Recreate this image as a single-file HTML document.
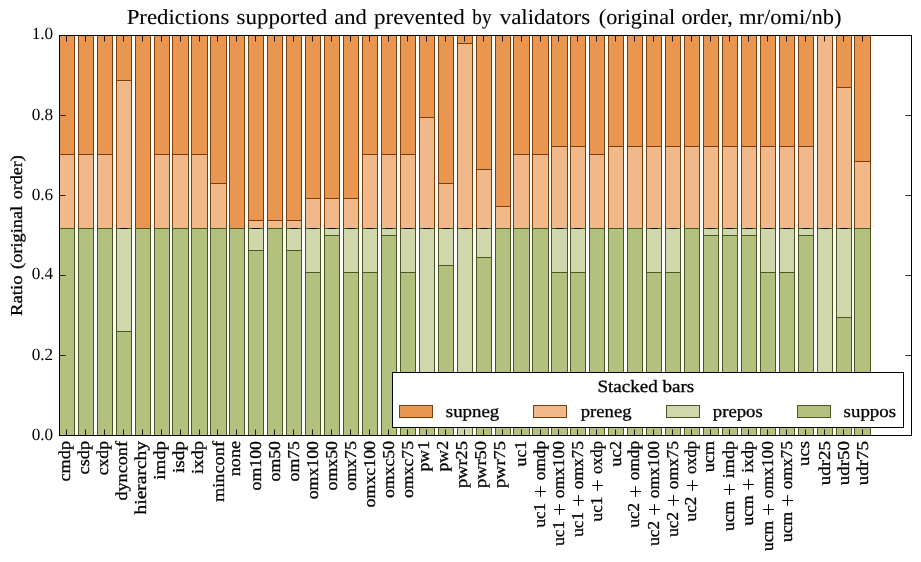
<!DOCTYPE html><html><head><meta charset="utf-8"><title>chart</title><style>html,body{margin:0;padding:0;background:#fff;overflow:hidden}svg{display:block;will-change:transform}text{text-rendering:geometricPrecision;stroke:#000;stroke-width:0.3px;font-family:"Liberation Serif",serif;fill:#000}</style></head><body>
<svg width="921" height="562" viewBox="0 0 921 562">
<rect x="0" y="0" width="921" height="562" fill="#fff"/>
<rect x="59.5" y="35.5" width="15.0" height="119.0" fill="#e99650" stroke="#7a3e0c" stroke-width="1"/>
<rect x="59.5" y="154.5" width="15.0" height="74.0" fill="#f1b989" stroke="#7a3e0c" stroke-width="1"/>
<rect x="59.5" y="228.5" width="15.0" height="207.0" fill="#b2c27e" stroke="#4b5623" stroke-width="1"/>
<rect x="78.5" y="35.5" width="15.0" height="119.0" fill="#e99650" stroke="#7a3e0c" stroke-width="1"/>
<rect x="78.5" y="154.5" width="15.0" height="74.0" fill="#f1b989" stroke="#7a3e0c" stroke-width="1"/>
<rect x="78.5" y="228.5" width="15.0" height="207.0" fill="#b2c27e" stroke="#4b5623" stroke-width="1"/>
<rect x="97.5" y="35.5" width="15.0" height="119.0" fill="#e99650" stroke="#7a3e0c" stroke-width="1"/>
<rect x="97.5" y="154.5" width="15.0" height="74.0" fill="#f1b989" stroke="#7a3e0c" stroke-width="1"/>
<rect x="97.5" y="228.5" width="15.0" height="207.0" fill="#b2c27e" stroke="#4b5623" stroke-width="1"/>
<rect x="116.5" y="35.5" width="15.0" height="45.0" fill="#e99650" stroke="#7a3e0c" stroke-width="1"/>
<rect x="116.5" y="80.5" width="15.0" height="148.0" fill="#f1b989" stroke="#7a3e0c" stroke-width="1"/>
<rect x="116.5" y="228.5" width="15.0" height="103.0" fill="#d0d7ab" stroke="#4b5623" stroke-width="1"/>
<rect x="116.5" y="331.5" width="15.0" height="104.0" fill="#b2c27e" stroke="#4b5623" stroke-width="1"/>
<rect x="135.5" y="35.5" width="15.0" height="193.0" fill="#e99650" stroke="#7a3e0c" stroke-width="1"/>
<rect x="135.5" y="228.5" width="15.0" height="207.0" fill="#b2c27e" stroke="#4b5623" stroke-width="1"/>
<rect x="154.5" y="35.5" width="15.0" height="119.0" fill="#e99650" stroke="#7a3e0c" stroke-width="1"/>
<rect x="154.5" y="154.5" width="15.0" height="74.0" fill="#f1b989" stroke="#7a3e0c" stroke-width="1"/>
<rect x="154.5" y="228.5" width="15.0" height="207.0" fill="#b2c27e" stroke="#4b5623" stroke-width="1"/>
<rect x="172.5" y="35.5" width="16.0" height="119.0" fill="#e99650" stroke="#7a3e0c" stroke-width="1"/>
<rect x="172.5" y="154.5" width="16.0" height="74.0" fill="#f1b989" stroke="#7a3e0c" stroke-width="1"/>
<rect x="172.5" y="228.5" width="16.0" height="207.0" fill="#b2c27e" stroke="#4b5623" stroke-width="1"/>
<rect x="191.5" y="35.5" width="16.0" height="119.0" fill="#e99650" stroke="#7a3e0c" stroke-width="1"/>
<rect x="191.5" y="154.5" width="16.0" height="74.0" fill="#f1b989" stroke="#7a3e0c" stroke-width="1"/>
<rect x="191.5" y="228.5" width="16.0" height="207.0" fill="#b2c27e" stroke="#4b5623" stroke-width="1"/>
<rect x="210.5" y="35.5" width="16.0" height="148.0" fill="#e99650" stroke="#7a3e0c" stroke-width="1"/>
<rect x="210.5" y="183.5" width="16.0" height="45.0" fill="#f1b989" stroke="#7a3e0c" stroke-width="1"/>
<rect x="210.5" y="228.5" width="16.0" height="207.0" fill="#b2c27e" stroke="#4b5623" stroke-width="1"/>
<rect x="229.5" y="35.5" width="15.0" height="193.0" fill="#e99650" stroke="#7a3e0c" stroke-width="1"/>
<rect x="229.5" y="228.5" width="15.0" height="207.0" fill="#b2c27e" stroke="#4b5623" stroke-width="1"/>
<rect x="248.5" y="35.5" width="15.0" height="185.0" fill="#e99650" stroke="#7a3e0c" stroke-width="1"/>
<rect x="248.5" y="220.5" width="15.0" height="8.0" fill="#f1b989" stroke="#7a3e0c" stroke-width="1"/>
<rect x="248.5" y="228.5" width="15.0" height="22.0" fill="#d0d7ab" stroke="#4b5623" stroke-width="1"/>
<rect x="248.5" y="250.5" width="15.0" height="185.0" fill="#b2c27e" stroke="#4b5623" stroke-width="1"/>
<rect x="267.5" y="35.5" width="15.0" height="185.0" fill="#e99650" stroke="#7a3e0c" stroke-width="1"/>
<rect x="267.5" y="220.5" width="15.0" height="8.0" fill="#f1b989" stroke="#7a3e0c" stroke-width="1"/>
<rect x="267.5" y="228.5" width="15.0" height="207.0" fill="#b2c27e" stroke="#4b5623" stroke-width="1"/>
<rect x="286.5" y="35.5" width="15.0" height="185.0" fill="#e99650" stroke="#7a3e0c" stroke-width="1"/>
<rect x="286.5" y="220.5" width="15.0" height="8.0" fill="#f1b989" stroke="#7a3e0c" stroke-width="1"/>
<rect x="286.5" y="228.5" width="15.0" height="22.0" fill="#d0d7ab" stroke="#4b5623" stroke-width="1"/>
<rect x="286.5" y="250.5" width="15.0" height="185.0" fill="#b2c27e" stroke="#4b5623" stroke-width="1"/>
<rect x="305.5" y="35.5" width="15.0" height="163.0" fill="#e99650" stroke="#7a3e0c" stroke-width="1"/>
<rect x="305.5" y="198.5" width="15.0" height="30.0" fill="#f1b989" stroke="#7a3e0c" stroke-width="1"/>
<rect x="305.5" y="228.5" width="15.0" height="44.0" fill="#d0d7ab" stroke="#4b5623" stroke-width="1"/>
<rect x="305.5" y="272.5" width="15.0" height="163.0" fill="#b2c27e" stroke="#4b5623" stroke-width="1"/>
<rect x="324.5" y="35.5" width="15.0" height="163.0" fill="#e99650" stroke="#7a3e0c" stroke-width="1"/>
<rect x="324.5" y="198.5" width="15.0" height="30.0" fill="#f1b989" stroke="#7a3e0c" stroke-width="1"/>
<rect x="324.5" y="228.5" width="15.0" height="7.0" fill="#d0d7ab" stroke="#4b5623" stroke-width="1"/>
<rect x="324.5" y="235.5" width="15.0" height="200.0" fill="#b2c27e" stroke="#4b5623" stroke-width="1"/>
<rect x="343.5" y="35.5" width="15.0" height="163.0" fill="#e99650" stroke="#7a3e0c" stroke-width="1"/>
<rect x="343.5" y="198.5" width="15.0" height="30.0" fill="#f1b989" stroke="#7a3e0c" stroke-width="1"/>
<rect x="343.5" y="228.5" width="15.0" height="44.0" fill="#d0d7ab" stroke="#4b5623" stroke-width="1"/>
<rect x="343.5" y="272.5" width="15.0" height="163.0" fill="#b2c27e" stroke="#4b5623" stroke-width="1"/>
<rect x="362.5" y="35.5" width="15.0" height="119.0" fill="#e99650" stroke="#7a3e0c" stroke-width="1"/>
<rect x="362.5" y="154.5" width="15.0" height="74.0" fill="#f1b989" stroke="#7a3e0c" stroke-width="1"/>
<rect x="362.5" y="228.5" width="15.0" height="44.0" fill="#d0d7ab" stroke="#4b5623" stroke-width="1"/>
<rect x="362.5" y="272.5" width="15.0" height="163.0" fill="#b2c27e" stroke="#4b5623" stroke-width="1"/>
<rect x="381.5" y="35.5" width="15.0" height="119.0" fill="#e99650" stroke="#7a3e0c" stroke-width="1"/>
<rect x="381.5" y="154.5" width="15.0" height="74.0" fill="#f1b989" stroke="#7a3e0c" stroke-width="1"/>
<rect x="381.5" y="228.5" width="15.0" height="7.0" fill="#d0d7ab" stroke="#4b5623" stroke-width="1"/>
<rect x="381.5" y="235.5" width="15.0" height="200.0" fill="#b2c27e" stroke="#4b5623" stroke-width="1"/>
<rect x="400.5" y="35.5" width="15.0" height="119.0" fill="#e99650" stroke="#7a3e0c" stroke-width="1"/>
<rect x="400.5" y="154.5" width="15.0" height="74.0" fill="#f1b989" stroke="#7a3e0c" stroke-width="1"/>
<rect x="400.5" y="228.5" width="15.0" height="44.0" fill="#d0d7ab" stroke="#4b5623" stroke-width="1"/>
<rect x="400.5" y="272.5" width="15.0" height="163.0" fill="#b2c27e" stroke="#4b5623" stroke-width="1"/>
<rect x="419.5" y="35.5" width="15.0" height="82.0" fill="#e99650" stroke="#7a3e0c" stroke-width="1"/>
<rect x="419.5" y="117.5" width="15.0" height="111.0" fill="#f1b989" stroke="#7a3e0c" stroke-width="1"/>
<rect x="419.5" y="228.5" width="15.0" height="167.0" fill="#d0d7ab" stroke="#4b5623" stroke-width="1"/>
<rect x="419.5" y="395.5" width="15.0" height="40.0" fill="#b2c27e" stroke="#4b5623" stroke-width="1"/>
<rect x="438.5" y="35.5" width="15.0" height="148.0" fill="#e99650" stroke="#7a3e0c" stroke-width="1"/>
<rect x="438.5" y="183.5" width="15.0" height="45.0" fill="#f1b989" stroke="#7a3e0c" stroke-width="1"/>
<rect x="438.5" y="228.5" width="15.0" height="37.0" fill="#d0d7ab" stroke="#4b5623" stroke-width="1"/>
<rect x="438.5" y="265.5" width="15.0" height="170.0" fill="#b2c27e" stroke="#4b5623" stroke-width="1"/>
<rect x="457.5" y="35.5" width="15.0" height="8.0" fill="#e99650" stroke="#7a3e0c" stroke-width="1"/>
<rect x="457.5" y="43.5" width="15.0" height="185.0" fill="#f1b989" stroke="#7a3e0c" stroke-width="1"/>
<rect x="457.5" y="228.5" width="15.0" height="207.0" fill="#d0d7ab" stroke="#4b5623" stroke-width="1"/>
<rect x="476.5" y="35.5" width="15.0" height="134.0" fill="#e99650" stroke="#7a3e0c" stroke-width="1"/>
<rect x="476.5" y="169.5" width="15.0" height="59.0" fill="#f1b989" stroke="#7a3e0c" stroke-width="1"/>
<rect x="476.5" y="228.5" width="15.0" height="29.0" fill="#d0d7ab" stroke="#4b5623" stroke-width="1"/>
<rect x="476.5" y="257.5" width="15.0" height="178.0" fill="#b2c27e" stroke="#4b5623" stroke-width="1"/>
<rect x="495.5" y="35.5" width="15.0" height="171.0" fill="#e99650" stroke="#7a3e0c" stroke-width="1"/>
<rect x="495.5" y="206.5" width="15.0" height="22.0" fill="#f1b989" stroke="#7a3e0c" stroke-width="1"/>
<rect x="495.5" y="228.5" width="15.0" height="207.0" fill="#b2c27e" stroke="#4b5623" stroke-width="1"/>
<rect x="513.5" y="35.5" width="16.0" height="119.0" fill="#e99650" stroke="#7a3e0c" stroke-width="1"/>
<rect x="513.5" y="154.5" width="16.0" height="74.0" fill="#f1b989" stroke="#7a3e0c" stroke-width="1"/>
<rect x="513.5" y="228.5" width="16.0" height="207.0" fill="#b2c27e" stroke="#4b5623" stroke-width="1"/>
<rect x="532.5" y="35.5" width="16.0" height="119.0" fill="#e99650" stroke="#7a3e0c" stroke-width="1"/>
<rect x="532.5" y="154.5" width="16.0" height="74.0" fill="#f1b989" stroke="#7a3e0c" stroke-width="1"/>
<rect x="532.5" y="228.5" width="16.0" height="207.0" fill="#b2c27e" stroke="#4b5623" stroke-width="1"/>
<rect x="551.5" y="35.5" width="16.0" height="111.0" fill="#e99650" stroke="#7a3e0c" stroke-width="1"/>
<rect x="551.5" y="146.5" width="16.0" height="82.0" fill="#f1b989" stroke="#7a3e0c" stroke-width="1"/>
<rect x="551.5" y="228.5" width="16.0" height="44.0" fill="#d0d7ab" stroke="#4b5623" stroke-width="1"/>
<rect x="551.5" y="272.5" width="16.0" height="163.0" fill="#b2c27e" stroke="#4b5623" stroke-width="1"/>
<rect x="570.5" y="35.5" width="15.0" height="111.0" fill="#e99650" stroke="#7a3e0c" stroke-width="1"/>
<rect x="570.5" y="146.5" width="15.0" height="82.0" fill="#f1b989" stroke="#7a3e0c" stroke-width="1"/>
<rect x="570.5" y="228.5" width="15.0" height="44.0" fill="#d0d7ab" stroke="#4b5623" stroke-width="1"/>
<rect x="570.5" y="272.5" width="15.0" height="163.0" fill="#b2c27e" stroke="#4b5623" stroke-width="1"/>
<rect x="589.5" y="35.5" width="15.0" height="119.0" fill="#e99650" stroke="#7a3e0c" stroke-width="1"/>
<rect x="589.5" y="154.5" width="15.0" height="74.0" fill="#f1b989" stroke="#7a3e0c" stroke-width="1"/>
<rect x="589.5" y="228.5" width="15.0" height="207.0" fill="#b2c27e" stroke="#4b5623" stroke-width="1"/>
<rect x="608.5" y="35.5" width="15.0" height="111.0" fill="#e99650" stroke="#7a3e0c" stroke-width="1"/>
<rect x="608.5" y="146.5" width="15.0" height="82.0" fill="#f1b989" stroke="#7a3e0c" stroke-width="1"/>
<rect x="608.5" y="228.5" width="15.0" height="207.0" fill="#b2c27e" stroke="#4b5623" stroke-width="1"/>
<rect x="627.5" y="35.5" width="15.0" height="111.0" fill="#e99650" stroke="#7a3e0c" stroke-width="1"/>
<rect x="627.5" y="146.5" width="15.0" height="82.0" fill="#f1b989" stroke="#7a3e0c" stroke-width="1"/>
<rect x="627.5" y="228.5" width="15.0" height="207.0" fill="#b2c27e" stroke="#4b5623" stroke-width="1"/>
<rect x="646.5" y="35.5" width="15.0" height="111.0" fill="#e99650" stroke="#7a3e0c" stroke-width="1"/>
<rect x="646.5" y="146.5" width="15.0" height="82.0" fill="#f1b989" stroke="#7a3e0c" stroke-width="1"/>
<rect x="646.5" y="228.5" width="15.0" height="44.0" fill="#d0d7ab" stroke="#4b5623" stroke-width="1"/>
<rect x="646.5" y="272.5" width="15.0" height="163.0" fill="#b2c27e" stroke="#4b5623" stroke-width="1"/>
<rect x="665.5" y="35.5" width="15.0" height="111.0" fill="#e99650" stroke="#7a3e0c" stroke-width="1"/>
<rect x="665.5" y="146.5" width="15.0" height="82.0" fill="#f1b989" stroke="#7a3e0c" stroke-width="1"/>
<rect x="665.5" y="228.5" width="15.0" height="44.0" fill="#d0d7ab" stroke="#4b5623" stroke-width="1"/>
<rect x="665.5" y="272.5" width="15.0" height="163.0" fill="#b2c27e" stroke="#4b5623" stroke-width="1"/>
<rect x="684.5" y="35.5" width="15.0" height="111.0" fill="#e99650" stroke="#7a3e0c" stroke-width="1"/>
<rect x="684.5" y="146.5" width="15.0" height="82.0" fill="#f1b989" stroke="#7a3e0c" stroke-width="1"/>
<rect x="684.5" y="228.5" width="15.0" height="207.0" fill="#b2c27e" stroke="#4b5623" stroke-width="1"/>
<rect x="703.5" y="35.5" width="15.0" height="111.0" fill="#e99650" stroke="#7a3e0c" stroke-width="1"/>
<rect x="703.5" y="146.5" width="15.0" height="82.0" fill="#f1b989" stroke="#7a3e0c" stroke-width="1"/>
<rect x="703.5" y="228.5" width="15.0" height="7.0" fill="#d0d7ab" stroke="#4b5623" stroke-width="1"/>
<rect x="703.5" y="235.5" width="15.0" height="200.0" fill="#b2c27e" stroke="#4b5623" stroke-width="1"/>
<rect x="722.5" y="35.5" width="15.0" height="111.0" fill="#e99650" stroke="#7a3e0c" stroke-width="1"/>
<rect x="722.5" y="146.5" width="15.0" height="82.0" fill="#f1b989" stroke="#7a3e0c" stroke-width="1"/>
<rect x="722.5" y="228.5" width="15.0" height="7.0" fill="#d0d7ab" stroke="#4b5623" stroke-width="1"/>
<rect x="722.5" y="235.5" width="15.0" height="200.0" fill="#b2c27e" stroke="#4b5623" stroke-width="1"/>
<rect x="741.5" y="35.5" width="15.0" height="111.0" fill="#e99650" stroke="#7a3e0c" stroke-width="1"/>
<rect x="741.5" y="146.5" width="15.0" height="82.0" fill="#f1b989" stroke="#7a3e0c" stroke-width="1"/>
<rect x="741.5" y="228.5" width="15.0" height="7.0" fill="#d0d7ab" stroke="#4b5623" stroke-width="1"/>
<rect x="741.5" y="235.5" width="15.0" height="200.0" fill="#b2c27e" stroke="#4b5623" stroke-width="1"/>
<rect x="760.5" y="35.5" width="15.0" height="111.0" fill="#e99650" stroke="#7a3e0c" stroke-width="1"/>
<rect x="760.5" y="146.5" width="15.0" height="82.0" fill="#f1b989" stroke="#7a3e0c" stroke-width="1"/>
<rect x="760.5" y="228.5" width="15.0" height="44.0" fill="#d0d7ab" stroke="#4b5623" stroke-width="1"/>
<rect x="760.5" y="272.5" width="15.0" height="163.0" fill="#b2c27e" stroke="#4b5623" stroke-width="1"/>
<rect x="779.5" y="35.5" width="15.0" height="111.0" fill="#e99650" stroke="#7a3e0c" stroke-width="1"/>
<rect x="779.5" y="146.5" width="15.0" height="82.0" fill="#f1b989" stroke="#7a3e0c" stroke-width="1"/>
<rect x="779.5" y="228.5" width="15.0" height="44.0" fill="#d0d7ab" stroke="#4b5623" stroke-width="1"/>
<rect x="779.5" y="272.5" width="15.0" height="163.0" fill="#b2c27e" stroke="#4b5623" stroke-width="1"/>
<rect x="798.5" y="35.5" width="15.0" height="111.0" fill="#e99650" stroke="#7a3e0c" stroke-width="1"/>
<rect x="798.5" y="146.5" width="15.0" height="82.0" fill="#f1b989" stroke="#7a3e0c" stroke-width="1"/>
<rect x="798.5" y="228.5" width="15.0" height="7.0" fill="#d0d7ab" stroke="#4b5623" stroke-width="1"/>
<rect x="798.5" y="235.5" width="15.0" height="200.0" fill="#b2c27e" stroke="#4b5623" stroke-width="1"/>
<rect x="817.5" y="35.5" width="15.0" height="193.0" fill="#f1b989" stroke="#7a3e0c" stroke-width="1"/>
<rect x="817.5" y="228.5" width="15.0" height="167.0" fill="#d0d7ab" stroke="#4b5623" stroke-width="1"/>
<rect x="817.5" y="395.5" width="15.0" height="40.0" fill="#b2c27e" stroke="#4b5623" stroke-width="1"/>
<rect x="836.5" y="35.5" width="15.0" height="52.0" fill="#e99650" stroke="#7a3e0c" stroke-width="1"/>
<rect x="836.5" y="87.5" width="15.0" height="141.0" fill="#f1b989" stroke="#7a3e0c" stroke-width="1"/>
<rect x="836.5" y="228.5" width="15.0" height="89.0" fill="#d0d7ab" stroke="#4b5623" stroke-width="1"/>
<rect x="836.5" y="317.5" width="15.0" height="118.0" fill="#b2c27e" stroke="#4b5623" stroke-width="1"/>
<rect x="854.5" y="35.5" width="16.0" height="126.0" fill="#e99650" stroke="#7a3e0c" stroke-width="1"/>
<rect x="854.5" y="161.5" width="16.0" height="67.0" fill="#f1b989" stroke="#7a3e0c" stroke-width="1"/>
<rect x="854.5" y="228.5" width="16.0" height="207.0" fill="#b2c27e" stroke="#4b5623" stroke-width="1"/>
<path d="M120.3 228.5h7.4M252.3 228.5h7.4M290.3 228.5h7.4M309.3 228.5h7.4M328.3 228.5h7.4M347.3 228.5h7.4M366.3 228.5h7.4M385.3 228.5h7.4M404.3 228.5h7.4M423.3 228.5h7.4M442.3 228.5h7.4M461.3 228.5h7.4M480.3 228.5h7.4M555.8 228.5h7.4M574.3 228.5h7.4M650.3 228.5h7.4M669.3 228.5h7.4M707.3 228.5h7.4M726.3 228.5h7.4M745.3 228.5h7.4M764.3 228.5h7.4M783.3 228.5h7.4M802.3 228.5h7.4M821.3 228.5h7.4M840.3 228.5h7.4" stroke="#000" stroke-opacity="0.8" stroke-width="1" fill="none"/>
<path d="M66.5 435.5v-6M66.5 35.5v6M85.5 435.5v-6M85.5 35.5v6M104.5 435.5v-6M104.5 35.5v6M123.5 435.5v-6M123.5 35.5v6M142.5 435.5v-6M142.5 35.5v6M161.5 435.5v-6M161.5 35.5v6M180.5 435.5v-6M180.5 35.5v6M199.5 435.5v-6M199.5 35.5v6M217.5 435.5v-6M217.5 35.5v6M236.5 435.5v-6M236.5 35.5v6M255.5 435.5v-6M255.5 35.5v6M274.5 435.5v-6M274.5 35.5v6M293.5 435.5v-6M293.5 35.5v6M312.5 435.5v-6M312.5 35.5v6M331.5 435.5v-6M331.5 35.5v6M350.5 435.5v-6M350.5 35.5v6M369.5 435.5v-6M369.5 35.5v6M388.5 435.5v-6M388.5 35.5v6M407.5 435.5v-6M407.5 35.5v6M426.5 435.5v-6M426.5 35.5v6M445.5 435.5v-6M445.5 35.5v6M464.5 435.5v-6M464.5 35.5v6M483.5 435.5v-6M483.5 35.5v6M502.5 435.5v-6M502.5 35.5v6M521.5 435.5v-6M521.5 35.5v6M540.5 435.5v-6M540.5 35.5v6M558.5 435.5v-6M558.5 35.5v6M577.5 435.5v-6M577.5 35.5v6M596.5 435.5v-6M596.5 35.5v6M615.5 435.5v-6M615.5 35.5v6M634.5 435.5v-6M634.5 35.5v6M653.5 435.5v-6M653.5 35.5v6M672.5 435.5v-6M672.5 35.5v6M691.5 435.5v-6M691.5 35.5v6M710.5 435.5v-6M710.5 35.5v6M729.5 435.5v-6M729.5 35.5v6M748.5 435.5v-6M748.5 35.5v6M767.5 435.5v-6M767.5 35.5v6M786.5 435.5v-6M786.5 35.5v6M805.5 435.5v-6M805.5 35.5v6M824.5 435.5v-6M824.5 35.5v6M843.5 435.5v-6M843.5 35.5v6M862.5 435.5v-6M862.5 35.5v6M59.5 435.5h6M911.5 435.5h-6M59.5 355.5h6M911.5 355.5h-6M59.5 275.5h6M911.5 275.5h-6M59.5 195.5h6M911.5 195.5h-6M59.5 115.5h6M911.5 115.5h-6M59.5 35.5h6M911.5 35.5h-6" stroke="#000" stroke-width="1" fill="none" stroke-opacity="0.85"/>
<rect x="392.5" y="372.5" width="511" height="55" fill="#fff" stroke="#000" stroke-width="1"/>
<text x="597.4" y="391.9" font-size="17.3" text-anchor="start" textLength="96.8" lengthAdjust="spacingAndGlyphs">Stacked bars</text>
<rect x="399.5" y="405.5" width="33" height="12" fill="#e99650" stroke="#7a3e0c" stroke-width="1"/>
<text x="445.8" y="416.7" font-size="17.2" text-anchor="start" textLength="53.5" lengthAdjust="spacingAndGlyphs">supneg</text>
<rect x="533.5" y="405.5" width="33" height="12" fill="#f1b989" stroke="#7a3e0c" stroke-width="1"/>
<text x="580.8" y="416.7" font-size="17.2" text-anchor="start" textLength="50.7" lengthAdjust="spacingAndGlyphs">preneg</text>
<rect x="666.5" y="405.5" width="33" height="12" fill="#d0d7ab" stroke="#4b5623" stroke-width="1"/>
<text x="712.8" y="416.7" font-size="17.2" text-anchor="start" textLength="49.9" lengthAdjust="spacingAndGlyphs">prepos</text>
<rect x="797.5" y="405.5" width="33" height="12" fill="#b2c27e" stroke="#4b5623" stroke-width="1"/>
<text x="843.5999999999999" y="416.7" font-size="17.2" text-anchor="start" textLength="52.5" lengthAdjust="spacingAndGlyphs">suppos</text>
<rect x="59.5" y="35.5" width="852.0" height="400.0" fill="none" stroke="#000" stroke-width="1"/>
<text x="126.7" y="23.8" font-size="21.4" text-anchor="start" textLength="102.6" lengthAdjust="spacingAndGlyphs" style="stroke-width:0.1px">Predictions</text>
<text x="236.5" y="23.8" font-size="21.4" text-anchor="start" textLength="90.8" lengthAdjust="spacingAndGlyphs" style="stroke-width:0.1px">supported</text>
<text x="334.2" y="23.8" font-size="21.4" text-anchor="start" textLength="32.6" lengthAdjust="spacingAndGlyphs" style="stroke-width:0.1px">and</text>
<text x="374.0" y="23.8" font-size="21.4" text-anchor="start" textLength="90.7" lengthAdjust="spacingAndGlyphs" style="stroke-width:0.1px">prevented</text>
<text x="472.3" y="23.8" font-size="21.4" text-anchor="start" textLength="19.2" lengthAdjust="spacingAndGlyphs" style="stroke-width:0.1px">by</text>
<text x="499.7" y="23.8" font-size="21.4" text-anchor="start" textLength="90.5" lengthAdjust="spacingAndGlyphs" style="stroke-width:0.1px">validators</text>
<text x="598.8" y="23.8" font-size="21.4" text-anchor="start" textLength="76.4" lengthAdjust="spacingAndGlyphs" style="stroke-width:0.1px">(original</text>
<text x="681.4" y="23.8" font-size="21.4" text-anchor="start" textLength="51.4" lengthAdjust="spacingAndGlyphs" style="stroke-width:0.1px">order,</text>
<text x="739.0" y="23.8" font-size="21.4" text-anchor="start" textLength="102.5" lengthAdjust="spacingAndGlyphs" style="stroke-width:0.1px">mr/omi/nb)</text>
<g transform="translate(22.1,0) rotate(-90)"><text x="-316.1" y="0" font-size="16.667" text-anchor="start" textLength="40.7" lengthAdjust="spacingAndGlyphs">Ratio</text><text x="-268.9" y="0" font-size="16.667" text-anchor="start" textLength="63.0" lengthAdjust="spacingAndGlyphs">(original</text><text x="-199.3" y="0" font-size="16.667" text-anchor="start" textLength="44.0" lengthAdjust="spacingAndGlyphs">order)</text></g>
<text x="53.2" y="439.5" font-size="17.0" text-anchor="end" textLength="21.5" lengthAdjust="spacingAndGlyphs" style="stroke:none">0.0</text>
<text x="53.2" y="359.5" font-size="17.0" text-anchor="end" textLength="21.5" lengthAdjust="spacingAndGlyphs" style="stroke:none">0.2</text>
<text x="53.2" y="278.5" font-size="17.0" text-anchor="end" textLength="21.5" lengthAdjust="spacingAndGlyphs" style="stroke:none">0.4</text>
<text x="53.2" y="199.5" font-size="17.0" text-anchor="end" textLength="21.5" lengthAdjust="spacingAndGlyphs" style="stroke:none">0.6</text>
<text x="53.2" y="119.5" font-size="17.0" text-anchor="end" textLength="21.5" lengthAdjust="spacingAndGlyphs" style="stroke:none">0.8</text>
<text x="53.2" y="38.5" font-size="17.0" text-anchor="end" textLength="21.5" lengthAdjust="spacingAndGlyphs" style="stroke:none">1.0</text>
<g transform="translate(70.3,441.0) rotate(-90)"><text x="0" y="0" font-size="16.667" text-anchor="end" textLength="40.5" lengthAdjust="spacingAndGlyphs">cmdp</text></g>
<g transform="translate(89.2,441.0) rotate(-90)"><text x="0" y="0" font-size="16.667" text-anchor="end" textLength="33.4" lengthAdjust="spacingAndGlyphs">csdp</text></g>
<g transform="translate(108.2,441.0) rotate(-90)"><text x="0" y="0" font-size="16.667" text-anchor="end" textLength="34.3" lengthAdjust="spacingAndGlyphs">cxdp</text></g>
<g transform="translate(127.1,441.0) rotate(-90)"><text x="0" y="0" font-size="16.667" text-anchor="end" textLength="59.6" lengthAdjust="spacingAndGlyphs">dynconf</text></g>
<g transform="translate(146.0,441.0) rotate(-90)"><text x="0" y="0" font-size="16.667" text-anchor="end" textLength="73.4" lengthAdjust="spacingAndGlyphs">hierarchy</text></g>
<g transform="translate(165.0,441.0) rotate(-90)"><text x="0" y="0" font-size="16.667" text-anchor="end" textLength="38.7" lengthAdjust="spacingAndGlyphs">imdp</text></g>
<g transform="translate(183.9,441.0) rotate(-90)"><text x="0" y="0" font-size="16.667" text-anchor="end" textLength="32.1" lengthAdjust="spacingAndGlyphs">isdp</text></g>
<g transform="translate(202.9,441.0) rotate(-90)"><text x="0" y="0" font-size="16.667" text-anchor="end" textLength="33.0" lengthAdjust="spacingAndGlyphs">ixdp</text></g>
<g transform="translate(223.9,441.0) rotate(-90)"><text x="0" y="0" font-size="16.667" text-anchor="end" textLength="61.0" lengthAdjust="spacingAndGlyphs">minconf</text></g>
<g transform="translate(240.2,441.0) rotate(-90)"><text x="0" y="0" font-size="16.667" text-anchor="end" textLength="35.2" lengthAdjust="spacingAndGlyphs">none</text></g>
<g transform="translate(260.9,441.0) rotate(-90)"><text x="0" y="0" font-size="16.667" text-anchor="end" textLength="49.4" lengthAdjust="spacingAndGlyphs">om100</text></g>
<g transform="translate(279.9,441.0) rotate(-90)"><text x="0" y="0" font-size="16.667" text-anchor="end" textLength="40.5" lengthAdjust="spacingAndGlyphs">om50</text></g>
<g transform="translate(298.8,441.0) rotate(-90)"><text x="0" y="0" font-size="16.667" text-anchor="end" textLength="40.5" lengthAdjust="spacingAndGlyphs">om75</text></g>
<g transform="translate(317.7,441.0) rotate(-90)"><text x="0" y="0" font-size="16.667" text-anchor="end" textLength="58.3" lengthAdjust="spacingAndGlyphs">omx100</text></g>
<g transform="translate(336.7,441.0) rotate(-90)"><text x="0" y="0" font-size="16.667" text-anchor="end" textLength="49.4" lengthAdjust="spacingAndGlyphs">omx50</text></g>
<g transform="translate(355.6,441.0) rotate(-90)"><text x="0" y="0" font-size="16.667" text-anchor="end" textLength="49.8" lengthAdjust="spacingAndGlyphs">omx75</text></g>
<g transform="translate(374.6,441.0) rotate(-90)"><text x="0" y="0" font-size="16.667" text-anchor="end" textLength="66.4" lengthAdjust="spacingAndGlyphs">omxc100</text></g>
<g transform="translate(393.5,441.0) rotate(-90)"><text x="0" y="0" font-size="16.667" text-anchor="end" textLength="57.1" lengthAdjust="spacingAndGlyphs">omxc50</text></g>
<g transform="translate(412.5,441.0) rotate(-90)"><text x="0" y="0" font-size="16.667" text-anchor="end" textLength="57.1" lengthAdjust="spacingAndGlyphs">omxc75</text></g>
<g transform="translate(429.1,441.0) rotate(-90)"><text x="0" y="0" font-size="16.667" text-anchor="end" textLength="30.5" lengthAdjust="spacingAndGlyphs">pw1</text></g>
<g transform="translate(448.0,441.0) rotate(-90)"><text x="0" y="0" font-size="16.667" text-anchor="end" textLength="30.5" lengthAdjust="spacingAndGlyphs">pw2</text></g>
<g transform="translate(467.0,441.0) rotate(-90)"><text x="0" y="0" font-size="16.667" text-anchor="end" textLength="47.1" lengthAdjust="spacingAndGlyphs">pwr25</text></g>
<g transform="translate(485.9,441.0) rotate(-90)"><text x="0" y="0" font-size="16.667" text-anchor="end" textLength="47.1" lengthAdjust="spacingAndGlyphs">pwr50</text></g>
<g transform="translate(504.9,441.0) rotate(-90)"><text x="0" y="0" font-size="16.667" text-anchor="end" textLength="47.1" lengthAdjust="spacingAndGlyphs">pwr75</text></g>
<g transform="translate(526.1,441.0) rotate(-90)"><text x="0" y="0" font-size="16.667" text-anchor="end" textLength="25.4" lengthAdjust="spacingAndGlyphs">uc1</text></g>
<g transform="translate(544.7,441.0) rotate(-90)"><text x="0" y="0" font-size="16.667" text-anchor="end" textLength="39.2" lengthAdjust="spacingAndGlyphs">omdp</text><path d="M-55.90 -4.18h10.8M-50.50 -9.58v10.8" stroke="#000" stroke-width="1" fill="none"/><text x="-61.9" y="0" font-size="16.667" text-anchor="end" textLength="24.7" lengthAdjust="spacingAndGlyphs">uc1</text></g>
<g transform="translate(564.1,441.0) rotate(-90)"><text x="0" y="0" font-size="16.667" text-anchor="end" textLength="57.3" lengthAdjust="spacingAndGlyphs">omx100</text><path d="M-73.90 -4.63h10.8M-68.50 -10.03v10.8" stroke="#000" stroke-width="1" fill="none"/><text x="-80.0" y="0" font-size="16.667" text-anchor="end" textLength="24.7" lengthAdjust="spacingAndGlyphs">uc1</text></g>
<g transform="translate(583.1,441.0) rotate(-90)"><text x="0" y="0" font-size="16.667" text-anchor="end" textLength="48.3" lengthAdjust="spacingAndGlyphs">omx75</text><path d="M-64.90 -4.57h10.8M-59.50 -9.97v10.8" stroke="#000" stroke-width="1" fill="none"/><text x="-71.0" y="0" font-size="16.667" text-anchor="end" textLength="24.7" lengthAdjust="spacingAndGlyphs">uc1</text></g>
<g transform="translate(601.5,441.0) rotate(-90)"><text x="0" y="0" font-size="16.667" text-anchor="end" textLength="33.0" lengthAdjust="spacingAndGlyphs">oxdp</text><path d="M-49.90 -4.01h10.8M-44.50 -9.41v10.8" stroke="#000" stroke-width="1" fill="none"/><text x="-55.7" y="0" font-size="16.667" text-anchor="end" textLength="24.7" lengthAdjust="spacingAndGlyphs">uc1</text></g>
<g transform="translate(620.9,441.0) rotate(-90)"><text x="0" y="0" font-size="16.667" text-anchor="end" textLength="25.4" lengthAdjust="spacingAndGlyphs">uc2</text></g>
<g transform="translate(639.4,441.0) rotate(-90)"><text x="0" y="0" font-size="16.667" text-anchor="end" textLength="39.2" lengthAdjust="spacingAndGlyphs">omdp</text><path d="M-55.90 -3.90h10.8M-50.50 -9.30v10.8" stroke="#000" stroke-width="1" fill="none"/><text x="-61.9" y="0" font-size="16.667" text-anchor="end" textLength="24.7" lengthAdjust="spacingAndGlyphs">uc2</text></g>
<g transform="translate(658.9,441.0) rotate(-90)"><text x="0" y="0" font-size="16.667" text-anchor="end" textLength="57.3" lengthAdjust="spacingAndGlyphs">omx100</text><path d="M-73.90 -4.35h10.8M-68.50 -9.75v10.8" stroke="#000" stroke-width="1" fill="none"/><text x="-80.0" y="0" font-size="16.667" text-anchor="end" textLength="24.7" lengthAdjust="spacingAndGlyphs">uc2</text></g>
<g transform="translate(677.8,441.0) rotate(-90)"><text x="0" y="0" font-size="16.667" text-anchor="end" textLength="48.3" lengthAdjust="spacingAndGlyphs">omx75</text><path d="M-64.90 -4.30h10.8M-59.50 -9.70v10.8" stroke="#000" stroke-width="1" fill="none"/><text x="-71.0" y="0" font-size="16.667" text-anchor="end" textLength="24.7" lengthAdjust="spacingAndGlyphs">uc2</text></g>
<g transform="translate(696.2,441.0) rotate(-90)"><text x="0" y="0" font-size="16.667" text-anchor="end" textLength="33.0" lengthAdjust="spacingAndGlyphs">oxdp</text><path d="M-49.90 -3.73h10.8M-44.50 -9.13v10.8" stroke="#000" stroke-width="1" fill="none"/><text x="-55.7" y="0" font-size="16.667" text-anchor="end" textLength="24.7" lengthAdjust="spacingAndGlyphs">uc2</text></g>
<g transform="translate(713.8,441.0) rotate(-90)"><text x="0" y="0" font-size="16.667" text-anchor="end" textLength="31.3" lengthAdjust="spacingAndGlyphs">ucm</text></g>
<g transform="translate(734.1,441.0) rotate(-90)"><text x="0" y="0" font-size="16.667" text-anchor="end" textLength="37.2" lengthAdjust="spacingAndGlyphs">imdp</text><path d="M-53.90 -4.62h10.8M-48.50 -10.02v10.8" stroke="#000" stroke-width="1" fill="none"/><text x="-59.9" y="0" font-size="16.667" text-anchor="end" textLength="30.0" lengthAdjust="spacingAndGlyphs">ucm</text></g>
<g transform="translate(753.1,441.0) rotate(-90)"><text x="0" y="0" font-size="16.667" text-anchor="end" textLength="31.7" lengthAdjust="spacingAndGlyphs">ixdp</text><path d="M-48.90 -4.56h10.8M-43.50 -9.96v10.8" stroke="#000" stroke-width="1" fill="none"/><text x="-54.4" y="0" font-size="16.667" text-anchor="end" textLength="30.0" lengthAdjust="spacingAndGlyphs">ucm</text></g>
<g transform="translate(772.5,441.0) rotate(-90)"><text x="0" y="0" font-size="16.667" text-anchor="end" textLength="57.3" lengthAdjust="spacingAndGlyphs">omx100</text><path d="M-73.90 -4.02h10.8M-68.50 -9.42v10.8" stroke="#000" stroke-width="1" fill="none"/><text x="-80.0" y="0" font-size="16.667" text-anchor="end" textLength="30.0" lengthAdjust="spacingAndGlyphs">ucm</text></g>
<g transform="translate(791.5,441.0) rotate(-90)"><text x="0" y="0" font-size="16.667" text-anchor="end" textLength="48.3" lengthAdjust="spacingAndGlyphs">omx75</text><path d="M-64.90 -3.96h10.8M-59.50 -9.36v10.8" stroke="#000" stroke-width="1" fill="none"/><text x="-71.0" y="0" font-size="16.667" text-anchor="end" textLength="30.0" lengthAdjust="spacingAndGlyphs">ucm</text></g>
<g transform="translate(808.5,441.0) rotate(-90)"><text x="0" y="0" font-size="16.667" text-anchor="end" textLength="25.0" lengthAdjust="spacingAndGlyphs">ucs</text></g>
<g transform="translate(829.7,441.0) rotate(-90)"><text x="0" y="0" font-size="16.667" text-anchor="end" textLength="44.3" lengthAdjust="spacingAndGlyphs">udr25</text></g>
<g transform="translate(848.6,441.0) rotate(-90)"><text x="0" y="0" font-size="16.667" text-anchor="end" textLength="44.3" lengthAdjust="spacingAndGlyphs">udr50</text></g>
<g transform="translate(867.5,441.0) rotate(-90)"><text x="0" y="0" font-size="16.667" text-anchor="end" textLength="44.3" lengthAdjust="spacingAndGlyphs">udr75</text></g>
</svg></body></html>
